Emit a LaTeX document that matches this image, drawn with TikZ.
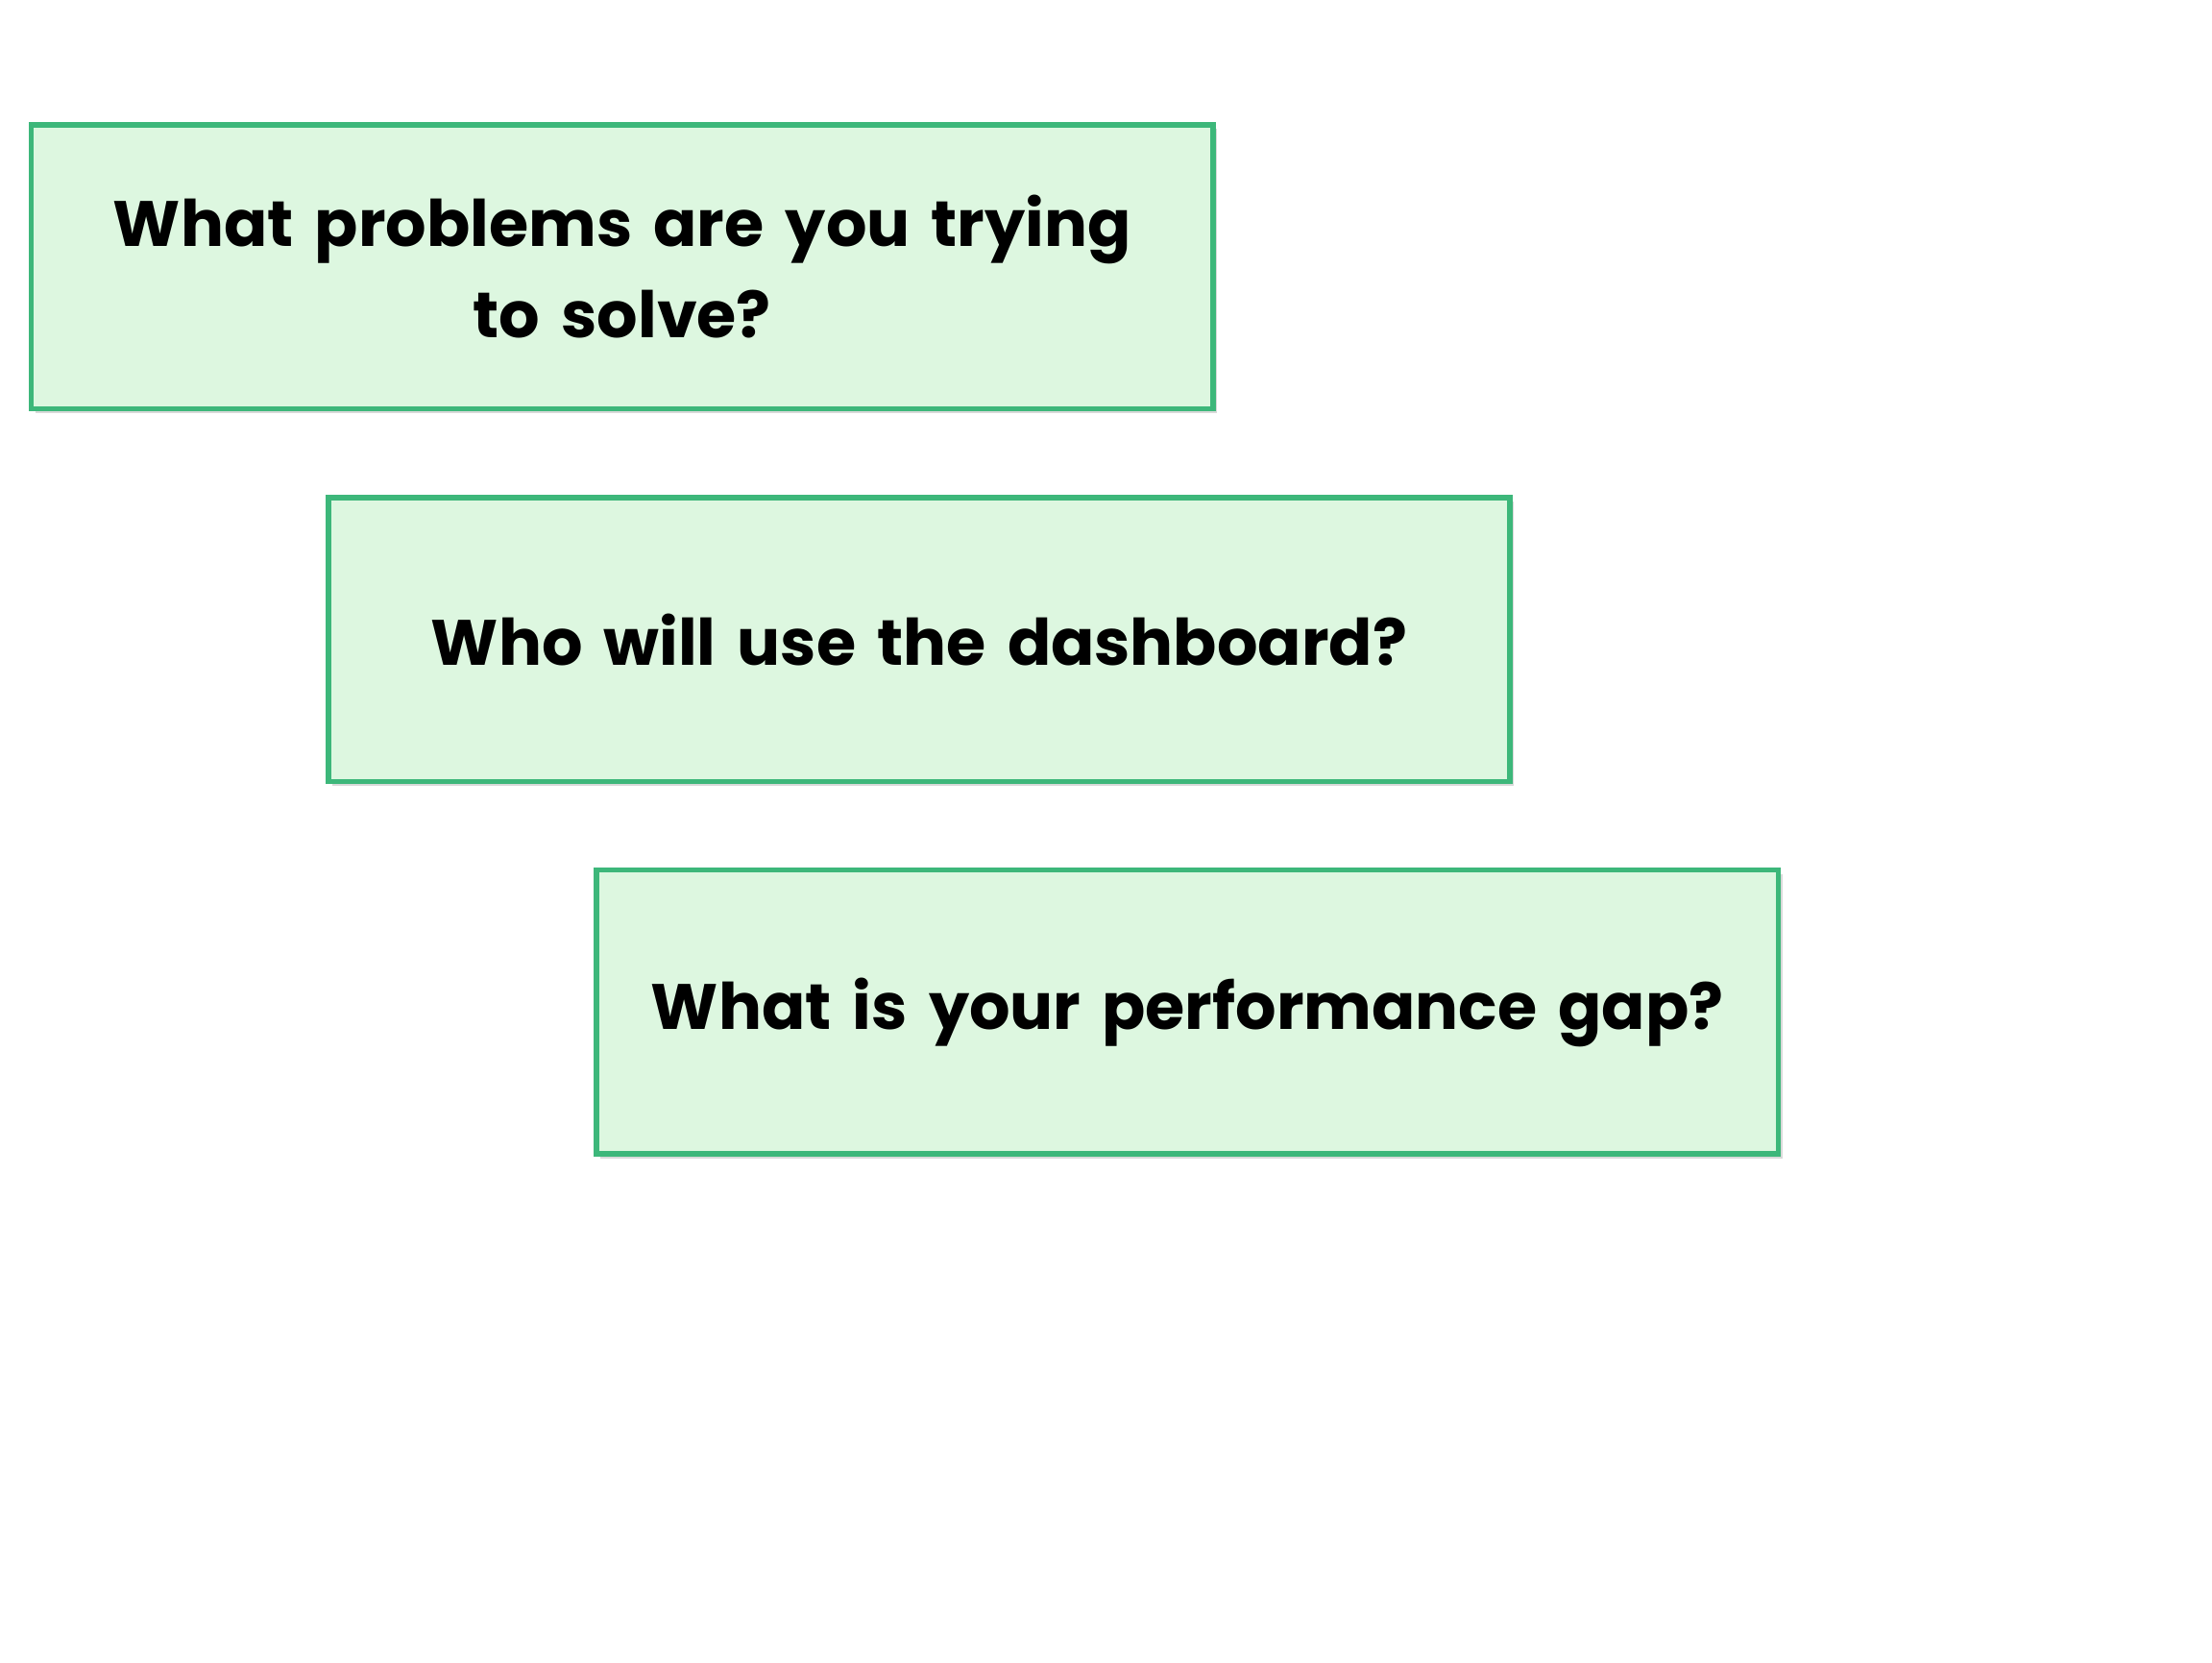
\documentclass[tikz,border=0pt]{standalone}
\usepackage{fontspec}
\setmainfont{Poppins}
\usetikzlibrary{shadows}
\definecolor{boxfill}{HTML}{DDF7E0}
\definecolor{boxline}{HTML}{3DB77A}
\begin{document}
\begin{tikzpicture}[x=0.01486cm,y=-0.01486cm]
	\useasboundingbox (0,0) rectangle (1550,1165);
	\tikzstyle{question}=[rectangle,draw=boxline,fill=boxfill,line width=1.6pt,inner sep=0pt,minimum width=828*0.01486cm,minimum height=199*0.01486cm,text width=800*0.01486cm,align=center,font=\fontsize{19}{27}\selectfont\bfseries,drop shadow={shadow xshift=1.2pt,shadow yshift=-1.2pt,opacity=0.3}]
	\node[question] (P) at (436,187) {What problems are you trying\\to solve?};
	\node[question] (U) at (644,448) {Who will use the dashboard?};
	\node[question] (G) at (832,709) {What is your performance gap?};
\end{tikzpicture}
\end{document}
